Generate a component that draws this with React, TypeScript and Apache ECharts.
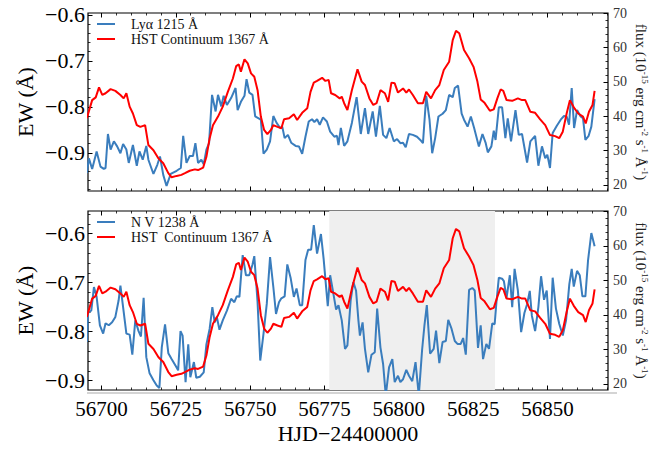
import React, { useEffect, useRef } from 'react';
import * as echarts from 'echarts';

// Lyα equivalent width (upper panel), [HJD-2400000, EW]
const lyaEW: [number, number][] = [
  [56695.1, -0.944], [56695.8, -0.912], [56696.9, -0.935], [56698.4, -0.897], [56699.7, -0.93],
  [56700.8, -0.935], [56701.4, -0.933], [56702.2, -0.859], [56703.1, -0.893], [56704.2, -0.875],
  [56705.3, -0.886], [56706.4, -0.901], [56707.3, -0.881], [56708.4, -0.893], [56709.2, -0.922],
  [56710.6, -0.883], [56711.9, -0.928], [56712.8, -0.897], [56713.9, -0.915], [56715.1, -0.885],
  [56715.8, -0.915], [56717.5, -0.946], [56718.8, -0.926], [56719.7, -0.908], [56720.8, -0.948],
  [56721.9, -0.972], [56723.3, -0.946], [56725.3, -0.939], [56726.7, -0.933], [56727.5, -0.863],
  [56728.6, -0.922], [56729.7, -0.907], [56730.8, -0.907], [56731.6, -0.879], [56732.5, -0.922],
  [56733.6, -0.915], [56734.4, -0.925], [56735.3, -0.893], [56736.2, -0.879], [56737.2, -0.774],
  [56738.4, -0.81], [56739.2, -0.774], [56740.3, -0.799], [56741.1, -0.776], [56742.2, -0.796],
  [56743.6, -0.781], [56745.1, -0.759], [56745.8, -0.807], [56746.9, -0.789], [56748.1, -0.776],
  [56748.8, -0.74], [56749.7, -0.769], [56750.8, -0.774], [56751.7, -0.821], [56753.6, -0.828],
  [56754.5, -0.902], [56755.6, -0.893], [56756.7, -0.875], [56757.8, -0.82], [56758.9, -0.835],
  [56760.1, -0.846], [56760.8, -0.843], [56761.6, -0.868], [56762.7, -0.861], [56763.8, -0.878],
  [56765.3, -0.885], [56766.4, -0.886], [56767.5, -0.902], [56768.6, -0.865], [56769.7, -0.832],
  [56770.8, -0.827], [56771.6, -0.833], [56772.5, -0.827], [56773.4, -0.839], [56774.5, -0.823],
  [56775.8, -0.832], [56776.9, -0.854], [56778.3, -0.865], [56779.2, -0.863], [56779.7, -0.883],
  [56780.5, -0.846], [56781.6, -0.885], [56782.7, -0.875], [56784.2, -0.835], [56785.8, -0.779],
  [56787.2, -0.859], [56788.6, -0.803], [56789.7, -0.859], [56791.2, -0.81], [56792.3, -0.865],
  [56793.6, -0.798], [56794.7, -0.861], [56795.8, -0.868], [56796.9, -0.846], [56798.3, -0.875],
  [56799.4, -0.87], [56800.5, -0.879], [56801.4, -0.878], [56802.3, -0.888], [56803.4, -0.859],
  [56804.7, -0.861], [56806.1, -0.865], [56807.2, -0.872], [56808.1, -0.879], [56809.2, -0.776],
  [56810.3, -0.828], [56811.2, -0.901], [56812.2, -0.868], [56813.3, -0.821], [56814.7, -0.815],
  [56815.8, -0.807], [56816.9, -0.774], [56818.1, -0.779], [56818.8, -0.759], [56819.9, -0.754],
  [56821.1, -0.815], [56821.9, -0.828], [56823.1, -0.843], [56824.2, -0.821], [56825.3, -0.846],
  [56826.9, -0.886], [56828.1, -0.859], [56829.2, -0.879], [56829.9, -0.899], [56831.1, -0.886],
  [56831.9, -0.852], [56832.5, -0.872], [56833.6, -0.801], [56834.7, -0.801], [56835.8, -0.868],
  [56836.6, -0.825], [56837.7, -0.875], [56839.2, -0.807], [56840.3, -0.861], [56841.4, -0.859],
  [56843.1, -0.921], [56844.2, -0.875], [56845.8, -0.863], [56846.9, -0.928], [56848.1, -0.886],
  [56849.2, -0.912], [56849.9, -0.904], [56850.8, -0.933], [56851.7, -0.857], [56853.1, -0.841],
  [56854.4, -0.828], [56855.5, -0.82], [56856.4, -0.821], [56857.2, -0.839], [56858.1, -0.759],
  [56858.9, -0.846], [56859.9, -0.807], [56861.1, -0.821], [56861.9, -0.825], [56862.7, -0.872],
  [56863.8, -0.863], [56864.7, -0.843], [56865.8, -0.783],
];

// N V equivalent width (lower panel)
const nvEW: [number, number][] = [
  [56695.1, -0.821], [56695.5, -0.762], [56696.6, -0.757], [56697.5, -0.709], [56698.4, -0.729],
  [56699.5, -0.787], [56700.6, -0.804], [56701.4, -0.783], [56702.5, -0.787], [56703.6, -0.781],
  [56704.7, -0.77], [56705.8, -0.736], [56706.4, -0.706], [56707.3, -0.75], [56708.4, -0.804],
  [56709.5, -0.806], [56710.4, -0.847], [56711.4, -0.777], [56712.5, -0.799], [56713.3, -0.81],
  [56714.2, -0.731], [56715.1, -0.852], [56716.2, -0.885], [56717.5, -0.899], [56718.6, -0.91],
  [56719.5, -0.915], [56720.3, -0.832], [56721.4, -0.785], [56722.5, -0.844], [56723.6, -0.856],
  [56725.1, -0.871], [56725.8, -0.879], [56726.6, -0.799], [56727.3, -0.808], [56728.3, -0.903],
  [56729.2, -0.826], [56729.9, -0.893], [56731.1, -0.862], [56731.9, -0.894], [56733.1, -0.892],
  [56734.4, -0.883], [56735.3, -0.826], [56736.4, -0.794], [56737.3, -0.75], [56738.1, -0.781],
  [56738.8, -0.77], [56739.7, -0.796], [56740.8, -0.777], [56742.2, -0.757], [56743.6, -0.733],
  [56744.7, -0.74], [56745.5, -0.728], [56746.4, -0.729], [56747.5, -0.644], [56748.6, -0.685],
  [56749.7, -0.685], [56750.8, -0.663], [56751.4, -0.646], [56752.5, -0.74], [56753.4, -0.859],
  [56754.5, -0.804], [56755.6, -0.743], [56756.7, -0.648], [56757.8, -0.709], [56758.7, -0.764],
  [56759.7, -0.74], [56760.5, -0.732], [56761.6, -0.728], [56762.5, -0.663], [56763.6, -0.69],
  [56764.7, -0.729], [56765.6, -0.712], [56766.7, -0.746], [56767.5, -0.746], [56768.6, -0.654],
  [56769.5, -0.633], [56770.5, -0.633], [56771.4, -0.583], [56772.5, -0.641], [56773.8, -0.601],
  [56774.7, -0.651], [56776.1, -0.748], [56776.9, -0.685], [56777.8, -0.716], [56778.9, -0.755],
  [56779.7, -0.746], [56780.8, -0.777], [56781.9, -0.835], [56782.7, -0.828], [56783.8, -0.736],
  [56784.7, -0.699], [56785.6, -0.716], [56786.4, -0.777], [56786.9, -0.808], [56787.8, -0.781],
  [56788.6, -0.835], [56789.7, -0.883], [56790.8, -0.847], [56791.9, -0.842], [56792.7, -0.753],
  [56793.8, -0.832], [56794.7, -0.866], [56795.6, -0.93], [56796.7, -0.873], [56797.8, -0.856],
  [56798.6, -0.903], [56799.7, -0.89], [56800.5, -0.903], [56801.4, -0.897], [56802.5, -0.878],
  [56803.4, -0.89], [56804.5, -0.901], [56805.6, -0.862], [56806.7, -0.93], [56807.8, -0.838],
  [56808.6, -0.787], [56809.4, -0.746], [56810.5, -0.845], [56811.7, -0.835], [56812.5, -0.798],
  [56813.6, -0.864], [56814.7, -0.821], [56815.8, -0.819], [56816.6, -0.776], [56817.7, -0.794],
  [56818.8, -0.819], [56819.7, -0.825], [56820.8, -0.825], [56821.6, -0.813], [56822.5, -0.847],
  [56823.6, -0.715], [56824.7, -0.711], [56825.5, -0.716], [56826.6, -0.833], [56827.5, -0.787],
  [56828.3, -0.856], [56829.4, -0.825], [56830.3, -0.835], [56831.4, -0.783], [56832.2, -0.785],
  [56832.8, -0.74], [56833.6, -0.69], [56834.7, -0.692], [56835.3, -0.697], [56836.2, -0.731],
  [56837.3, -0.685], [56838.1, -0.75], [56838.9, -0.672], [56840.0, -0.716], [56841.1, -0.801],
  [56842.2, -0.762], [56843.1, -0.744], [56844.0, -0.717], [56844.7, -0.767], [56845.8, -0.799],
  [56846.9, -0.75], [56847.8, -0.687], [56848.8, -0.735], [56849.7, -0.716], [56850.8, -0.815],
  [56851.7, -0.69], [56852.8, -0.753], [56853.9, -0.784], [56855.1, -0.808], [56856.2, -0.777],
  [56857.3, -0.703], [56858.1, -0.672], [56858.8, -0.708], [56859.9, -0.676], [56860.8, -0.685],
  [56861.7, -0.728], [56862.7, -0.728], [56863.6, -0.654], [56864.7, -0.599], [56865.8, -0.626],
];

// HST continuum flux at 1367 Å (both panels, right axis)
const continuumFlux: [number, number][] = [
  [56695.1, 39.4], [56696.9, 44.7], [56698.1, 45.5], [56699.2, 48.4], [56700.3, 46.2],
  [56701.4, 46.7], [56703.1, 47.9], [56704.7, 47.4], [56706.4, 46.2], [56707.5, 45.2],
  [56708.4, 46.7], [56709.5, 42.8], [56710.6, 40.8], [56711.9, 37.4], [56713.1, 36.9],
  [56714.7, 37.4], [56715.8, 31.6], [56717.5, 30.1], [56719.2, 27.7], [56720.8, 26.3],
  [56722.5, 23.4], [56723.6, 22.2], [56725.3, 22.6], [56726.9, 22.9], [56728.1, 23.4],
  [56729.7, 24.1], [56731.4, 24.5], [56732.5, 24.3], [56734.2, 25.0], [56735.3, 28.2],
  [56736.4, 33.6], [56737.5, 37.4], [56739.2, 39.9], [56740.8, 42.8], [56742.5, 47.1],
  [56744.2, 51.0], [56745.3, 54.6], [56746.2, 55.1], [56746.9, 53.0], [56748.1, 56.6],
  [56749.2, 55.4], [56750.3, 52.5], [56751.4, 51.5], [56752.5, 47.6], [56753.6, 39.9],
  [56754.7, 36.0], [56755.8, 34.8], [56757.0, 36.0], [56757.8, 37.4], [56759.2, 36.9],
  [56760.5, 36.5], [56761.4, 39.1], [56763.1, 39.4], [56764.7, 40.6], [56765.8, 38.9],
  [56767.5, 41.0], [56769.2, 42.3], [56770.3, 47.1], [56771.4, 49.8], [56772.5, 50.3],
  [56774.2, 51.2], [56775.3, 50.3], [56776.4, 50.6], [56777.2, 46.7], [56778.6, 46.2],
  [56780.1, 45.2], [56780.8, 45.7], [56781.6, 43.8], [56782.7, 41.8], [56784.2, 47.6],
  [56786.1, 53.7], [56787.5, 50.1], [56788.6, 49.1], [56790.1, 45.2], [56791.4, 43.3],
  [56792.5, 43.8], [56793.8, 47.6], [56795.3, 46.7], [56796.4, 44.2], [56797.5, 49.8],
  [56798.6, 49.6], [56799.7, 46.9], [56801.4, 48.1], [56802.5, 46.9], [56803.4, 47.8],
  [56804.7, 46.2], [56806.4, 43.8], [56808.1, 43.8], [56809.2, 47.1], [56810.8, 45.2],
  [56812.2, 47.6], [56813.6, 49.1], [56815.1, 53.5], [56816.9, 55.9], [56818.1, 62.2],
  [56819.2, 64.9], [56820.3, 64.2], [56821.9, 59.3], [56823.6, 56.9], [56825.1, 54.4],
  [56826.4, 50.1], [56827.5, 44.9], [56828.8, 43.9], [56830.6, 41.6], [56831.9, 42.0],
  [56833.1, 45.2], [56834.2, 47.8], [56835.1, 47.4], [56836.2, 44.7], [56838.1, 44.5],
  [56840.0, 45.2], [56841.4, 44.7], [56842.5, 44.7], [56844.2, 41.3], [56845.8, 41.0],
  [56847.5, 39.1], [56849.2, 37.4], [56850.8, 34.5], [56852.5, 34.2], [56853.9, 33.6],
  [56855.1, 35.5], [56856.4, 40.8], [56857.5, 44.7], [56858.8, 42.6], [56860.3, 40.8],
  [56861.9, 39.9], [56862.8, 37.9], [56863.9, 41.3], [56865.1, 43.3], [56865.8, 47.4],
];

const xMajorTicks = [56700, 56725, 56750, 56775, 56800, 56825, 56850];
const xMinorTicks = [
  56700, 56705, 56710, 56715, 56720, 56725, 56730, 56735, 56740, 56745, 56750, 56755, 56760,
  56765, 56770, 56775, 56780, 56785, 56790, 56795, 56800, 56805, 56810, 56815, 56820, 56825,
  56830, 56835, 56840, 56845, 56850, 56855, 56860, 56865, 56870,
];
const ewMajorTicks = [-0.9, -0.8, -0.7, -0.6];
const ewMinorTicks = [
  -0.98, -0.96, -0.94, -0.92, -0.88, -0.86, -0.84, -0.82, -0.78, -0.76, -0.74, -0.72,
  -0.68, -0.66, -0.64, -0.62, -0.58, -0.56,
];
const fluxMajorTicks = [20, 30, 40, 50, 60, 70];
const fluxMinorTicks = [22, 24, 26, 28, 32, 34, 36, 38, 42, 44, 46, 48, 52, 54, 56, 58, 62, 64, 66, 68];

const shadedSpan = [56776.6, 56832.3];

const X_RANGE = [56695.5, 56870.3];
const EW_RANGE_TOP = [-0.983, -0.596];
const EW_RANGE_BOTTOM = [-0.919, -0.554];
const FLUX_RANGE = [18.2, 70.1];

const FONT = "'Liberation Serif', 'Times New Roman', serif";
const BLUE = '#3a7dbd';
const RED = '#ff0000';

const inRange = (vals: number[], r: number[]) => vals.filter((v) => v >= r[0] && v <= r[1]);

function buildXAxes(gridIndex: number, withLabels: boolean) {
  const base = {
    type: 'value',
    gridIndex,
    min: X_RANGE[0],
    max: X_RANGE[1],
    splitLine: { show: false },
    axisLine: { show: false },
    axisLabel: { show: false },
  };
  const major = (position: string) => ({
    ...base,
    position,
    axisTick: { inside: true, length: 4.5, customValues: xMajorTicks, lineStyle: { color: '#000', width: 1 } },
  });
  const minor = (position: string) => ({
    ...base,
    position,
    axisTick: { inside: true, length: 2.5, customValues: xMinorTicks, lineStyle: { color: '#000', width: 0.8 } },
  });
  const bottom: any = major('bottom');
  if (withLabels) {
    bottom.axisLabel = {
      show: true,
      customValues: xMajorTicks,
      fontFamily: FONT,
      fontSize: 21,
      color: '#000',
      margin: 8,
      formatter: (v: number) => String(v),
    };
    bottom.name = 'HJD\u221224400000';
    bottom.nameLocation = 'middle';
    bottom.nameGap = 32;
    bottom.nameMoveOverlap = false;
    bottom.nameTextStyle = { fontFamily: FONT, fontSize: 22, color: '#000' };
  }
  return [bottom, minor('bottom'), major('top'), minor('top')];
}

function buildYAxes(gridIndex: number, ewRange: number[]) {
  const common = { type: 'value', gridIndex, splitLine: { show: false }, axisLine: { show: false } };
  return [
    {
      ...common,
      position: 'left',
      min: ewRange[0],
      max: ewRange[1],
      axisTick: { inside: true, length: 4.5, customValues: inRange(ewMajorTicks, ewRange), lineStyle: { color: '#000' } },
      axisLabel: {
        customValues: inRange(ewMajorTicks, ewRange),
        fontFamily: FONT,
        fontSize: 22,
        color: '#000',
        margin: 3,
        formatter: (v: number) => '\u2212' + Math.abs(v).toFixed(1),
      },
      name: 'EW (Å)',
      nameLocation: 'middle',
      nameGap: 52,
      nameMoveOverlap: false,
      nameTextStyle: { fontFamily: FONT, fontSize: 22, color: '#000' },
    },
    {
      ...common,
      position: 'left',
      min: ewRange[0],
      max: ewRange[1],
      axisTick: { inside: true, length: 2.5, customValues: inRange(ewMinorTicks, ewRange), lineStyle: { color: '#000', width: 0.8 } },
      axisLabel: { show: false },
    },
    {
      ...common,
      position: 'right',
      min: FLUX_RANGE[0],
      max: FLUX_RANGE[1],
      axisTick: { inside: true, length: 4.5, customValues: fluxMajorTicks, lineStyle: { color: '#000' } },
      axisLabel: {
        customValues: fluxMajorTicks,
        fontFamily: FONT,
        fontSize: 14,
        color: '#333',
        margin: 5,
      },
      name: '{a|flux (10}{b|-15}{a| erg cm}{b|-2}{a| s}{b|-1}{a| Å}{b|-1}{a|)}',
      nameLocation: 'middle',
      nameRotate: -90,
      nameGap: 25,
      nameMoveOverlap: false,
      nameTextStyle: {
        rich: {
          a: { fontFamily: FONT, fontSize: 15, color: '#222', lineHeight: 16, verticalAlign: 'bottom' },
          b: { fontFamily: FONT, fontSize: 9, color: '#222', lineHeight: 16, verticalAlign: 'top' },
        },
      },
    },
    {
      ...common,
      position: 'right',
      min: FLUX_RANGE[0],
      max: FLUX_RANGE[1],
      axisTick: { inside: true, length: 2.5, customValues: fluxMinorTicks, lineStyle: { color: '#000', width: 0.8 } },
      axisLabel: { show: false },
    },
  ];
}

const legendBase = {
  orient: 'vertical',
  left: 97,
  padding: 0,
  icon: 'rect',
  itemWidth: 18,
  itemHeight: 2,
  itemGap: 1,
  textStyle: { fontFamily: FONT, fontSize: 14, color: '#111', padding: [0, 0, 0, 11] },
};

const App: React.FC = () => {
  const chartRef = useRef<HTMLDivElement>(null);

  useEffect(() => {
    if (!chartRef.current) return;
    const chart = echarts.init(chartRef.current, null, { renderer: 'svg' });

    const option: any = {
      animation: false,
      backgroundColor: '#fff',
      grid: [
        { left: 88, top: 13, width: 525, height: 178, show: true, borderColor: '#000', borderWidth: 1.2, backgroundColor: 'transparent' },
        { left: 88, top: 211, width: 525, height: 179, show: true, borderColor: '#000', borderWidth: 1.2, backgroundColor: 'transparent' },
      ],
      legend: [
        { ...legendBase, top: 17, data: ['Lyα 1215 Å', 'HST Continuum 1367 Å'] },
        { ...legendBase, top: 215, data: ['N V 1238 Å', 'HST  Continuum 1367 Å'] },
      ],
      xAxis: [...buildXAxes(0, false), ...buildXAxes(1, true)],
      yAxis: [...buildYAxes(0, EW_RANGE_TOP), ...buildYAxes(1, EW_RANGE_BOTTOM)],
      graphic: [
        { type: 'rect', left: 87, top: 392, shape: { width: 530, height: 2 }, style: { fill: '#d4d4d4' }, silent: true },
      ],
      series: [
        {
          name: 'Lyα 1215 Å',
          type: 'line',
          xAxisIndex: 0,
          yAxisIndex: 0,
          data: lyaEW,
          symbol: 'none',
          color: BLUE,
          lineStyle: { color: BLUE, width: 2 },
          z: 3,
        },
        {
          name: 'HST Continuum 1367 Å',
          type: 'line',
          xAxisIndex: 0,
          yAxisIndex: 2,
          data: continuumFlux,
          symbol: 'none',
          color: RED,
          lineStyle: { color: RED, width: 2 },
          z: 4,
        },
        {
          name: 'shade',
          type: 'line',
          xAxisIndex: 4,
          yAxisIndex: 4,
          data: [],
          z: 1,
          silent: true,
          markArea: {
            silent: true,
            itemStyle: { color: '#efefef' },
            data: [[{ xAxis: shadedSpan[0] }, { xAxis: shadedSpan[1] }]],
          },
        },
        {
          name: 'N V 1238 Å',
          type: 'line',
          xAxisIndex: 4,
          yAxisIndex: 4,
          data: nvEW,
          symbol: 'none',
          color: BLUE,
          lineStyle: { color: BLUE, width: 2 },
          z: 3,
        },
        {
          name: 'HST  Continuum 1367 Å',
          type: 'line',
          xAxisIndex: 4,
          yAxisIndex: 6,
          data: continuumFlux,
          symbol: 'none',
          color: RED,
          lineStyle: { color: RED, width: 2 },
          z: 4,
        },
      ],
    };

    chart.setOption(option);

    return () => {
      chart.dispose();
    };
  }, []);

  return (
    <div style={{ position: 'absolute', left: 0, top: 0, width: 657, height: 451, overflow: 'hidden' }}>
      <div ref={chartRef} style={{ width: 657, height: 451 }} />
    </div>
  );
};

export default App;
